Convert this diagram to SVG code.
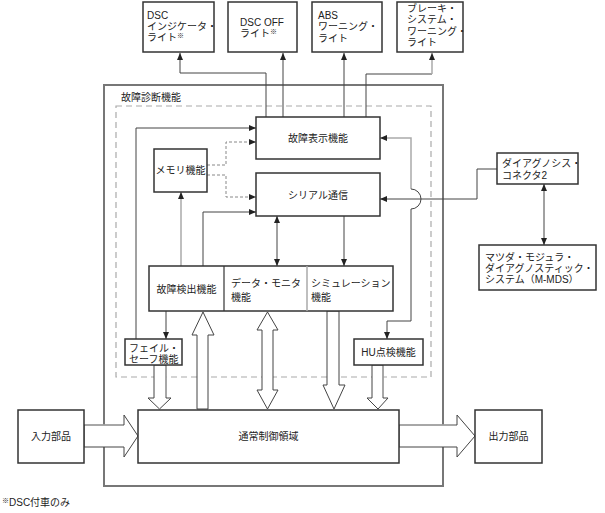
<svg xmlns="http://www.w3.org/2000/svg" width="605" height="513" viewBox="0 0 605 513">
<style>
text{font-family:"Liberation Sans","Noto Sans CJK JP",sans-serif;font-size:10px;fill:#222}
.c{text-anchor:middle}
.box{fill:#fff;stroke:#333;stroke-width:1.5}
.ln{fill:none;stroke:#444;stroke-width:1}
.gl{fill:none;stroke:#aaa;stroke-width:1.5}
.dl{fill:none;stroke:#888;stroke-width:1;stroke-dasharray:3,2}
.ba{fill:#fff;stroke:#444;stroke-width:1}
.sup{font-size:7px}
</style>
<defs>
<marker id="ah" markerUnits="userSpaceOnUse" markerWidth="8" markerHeight="6" refX="7" refY="3" orient="auto-start-reverse">
<path d="M0,0 L7,3 L0,6 z" fill="#222"/>
</marker>
</defs>
<rect id="frame" x="104" y="85" width="339" height="401" fill="none" stroke="#777" stroke-width="2"/>
<rect id="dashed" x="116" y="106" width="315" height="271" fill="none" stroke="#aaa" stroke-width="1.2" stroke-dasharray="6,4"/>
<text x="121" y="101">故障診断機能</text>
<g id="connectors">
<path class="ln" d="M266,117 V73 H180 V53" marker-end="url(#ah)"/>
<path class="ln" d="M283,117 V53" marker-end="url(#ah)"/>
<path class="ln" d="M344,117 V53" marker-end="url(#ah)"/>
<path class="ln" d="M366,117 V74 H432"/>
<path class="gl" d="M432,74 V53" marker-end="url(#ah)"/>
<path class="ln" d="M136,339 V128 H256" marker-end="url(#ah)"/>
<path class="dl" d="M207,165 H226 V142 H256" marker-end="url(#ah)"/>
<path class="dl" d="M207,175 H226 V197 H256" marker-end="url(#ah)"/>
<path class="ln" d="M203,266 V212 H256" marker-end="url(#ah)"/>
<path class="gl" d="M181,266 V192" marker-end="url(#ah)"/>
<path class="ln" d="M277,216 V266" marker-start="url(#ah)" marker-end="url(#ah)"/>
<path class="ln" d="M344,216 V266" marker-end="url(#ah)"/>
<path class="ln" d="M166,311 V339" marker-end="url(#ah)"/>
<path class="gl" d="M411,189 V138 H380" marker-end="url(#ah)"/>
<path class="ln" d="M411,189 A10,10 0 0 1 411,209"/>
<path class="ln" d="M411,209 V321 H387 V339" marker-end="url(#ah)"/>
<path class="ln" d="M497,169 H477 V199 H380" marker-end="url(#ah)"/>
<path class="ln" d="M544,184 V245" marker-start="url(#ah)" marker-end="url(#ah)"/>
<polygon class="ba" points="84,425 124,425 124,415 138,436 124,457 124,447 84,447"/>
<path class="gl" d="M85,425 H123"/>
<polygon class="ba" points="399,425 457,425 457,415 475,436 457,457 457,447 399,447"/>
<path class="gl" d="M400,425 H456"/>
<polygon class="ba" points="154,365 166,365 166,398 171,398 159.5,409 148,398 154,398"/>
<path class="gl" d="M166,366 V397"/>
<polygon class="ba" points="197,409 197,335 192,335 203,312 214,335 208,335 208,409"/>
<polygon class="ba" points="262,330 257,330 267.5,312 278,330 273,330 273,390 278,390 267.5,409 257,390 262,390"/>
<polygon class="ba" points="327,311 339,311 339,385 345,385 334,409 323,385 327,385"/>
<polygon class="ba" points="372,365 383,365 383,398 388,398 378,409 367,398 372,398"/>
<path class="gl" d="M383,366 V397"/>
</g>
<g id="dsc-indicator"><rect class="box" x="143" y="2" width="71" height="50"/>
<text x="147" y="18.5">DSC</text><text x="147" y="29.5">インジケータ・</text><text x="147" y="40.5">ライト<tspan class="sup" dy="-3">※</tspan></text></g>
<g id="dsc-off"><rect class="box" x="228" y="2" width="69" height="50"/>
<text x="240" y="25.5">DSC OFF</text><text x="240" y="36.5">ライト<tspan class="sup" dy="-3">※</tspan></text></g>
<g id="abs"><rect class="box" x="312" y="2" width="70" height="50"/>
<text x="318" y="18.5">ABS</text><text x="318" y="29.5">ワーニング・</text><text x="318" y="41.5">ライト</text></g>
<g id="brake"><rect class="box" x="397" y="2" width="66" height="50"/>
<text x="407" y="11.5">ブレーキ・</text><text x="407" y="23">システム・</text><text x="407" y="34.5">ワーニング・</text><text x="407" y="46">ライト</text></g>
<g id="fault-display"><rect class="box" x="256" y="117" width="124" height="42"/><text class="c" x="318" y="141.5">故障表示機能</text></g>
<g id="serial"><rect class="box" x="256" y="173" width="124" height="43"/><text class="c" x="318" y="198.5">シリアル通信</text></g>
<g id="memory"><rect class="box" x="154" y="149" width="53" height="43"/><text class="c" x="180.5" y="174">メモリ機能</text></g>
<g id="detect-row"><rect class="box" x="149" y="266" width="244" height="45"/>
<path d="M224,266 V311" stroke="#333" stroke-width="1.2"/><path d="M307,266 V311" stroke="#aaa" stroke-width="1.5"/>
<text class="c" x="186.5" y="292.5">故障検出機能</text>
<text x="231" y="286.5">データ・モニタ</text><text x="231" y="300.5">機能</text>
<text x="311" y="286.5">シミュレーション</text><text x="311" y="300.5">機能</text></g>
<g id="failsafe"><rect class="box" x="125" y="339" width="57" height="26"/><text x="129" y="351.5">フェイル・</text><text x="129" y="362.5">セーフ機能</text></g>
<g id="hu"><rect class="box" x="354" y="339" width="69" height="26"/><text class="c" x="388.5" y="355.5">HU点検機能</text></g>
<g id="normal"><rect class="box" x="138" y="410" width="261" height="53"/><text class="c" x="268.5" y="440">通常制御領域</text></g>
<g id="input"><rect class="box" x="18" y="410" width="66" height="53"/><text class="c" x="51" y="440">入力部品</text></g>
<g id="output"><rect class="box" x="475" y="410" width="67" height="53"/><text class="c" x="508.5" y="440">出力部品</text></g>
<g id="connector2"><rect class="box" x="497" y="153" width="81" height="31"/><text x="502" y="166.5">ダイアグノシス・</text><text x="502" y="178.5">コネクタ2</text></g>
<g id="mmds"><rect class="box" x="479" y="245" width="117" height="45"/><text x="485" y="260.5">マツダ・モジュラ・</text><text x="485" y="271.5">ダイアグノスティック・</text><text x="485" y="282.5">システム（M-MDS）</text></g>
<text x="2" y="506"><tspan class="sup" dy="-3">※</tspan><tspan dy="3">DSC付車のみ</tspan></text>
</svg>
